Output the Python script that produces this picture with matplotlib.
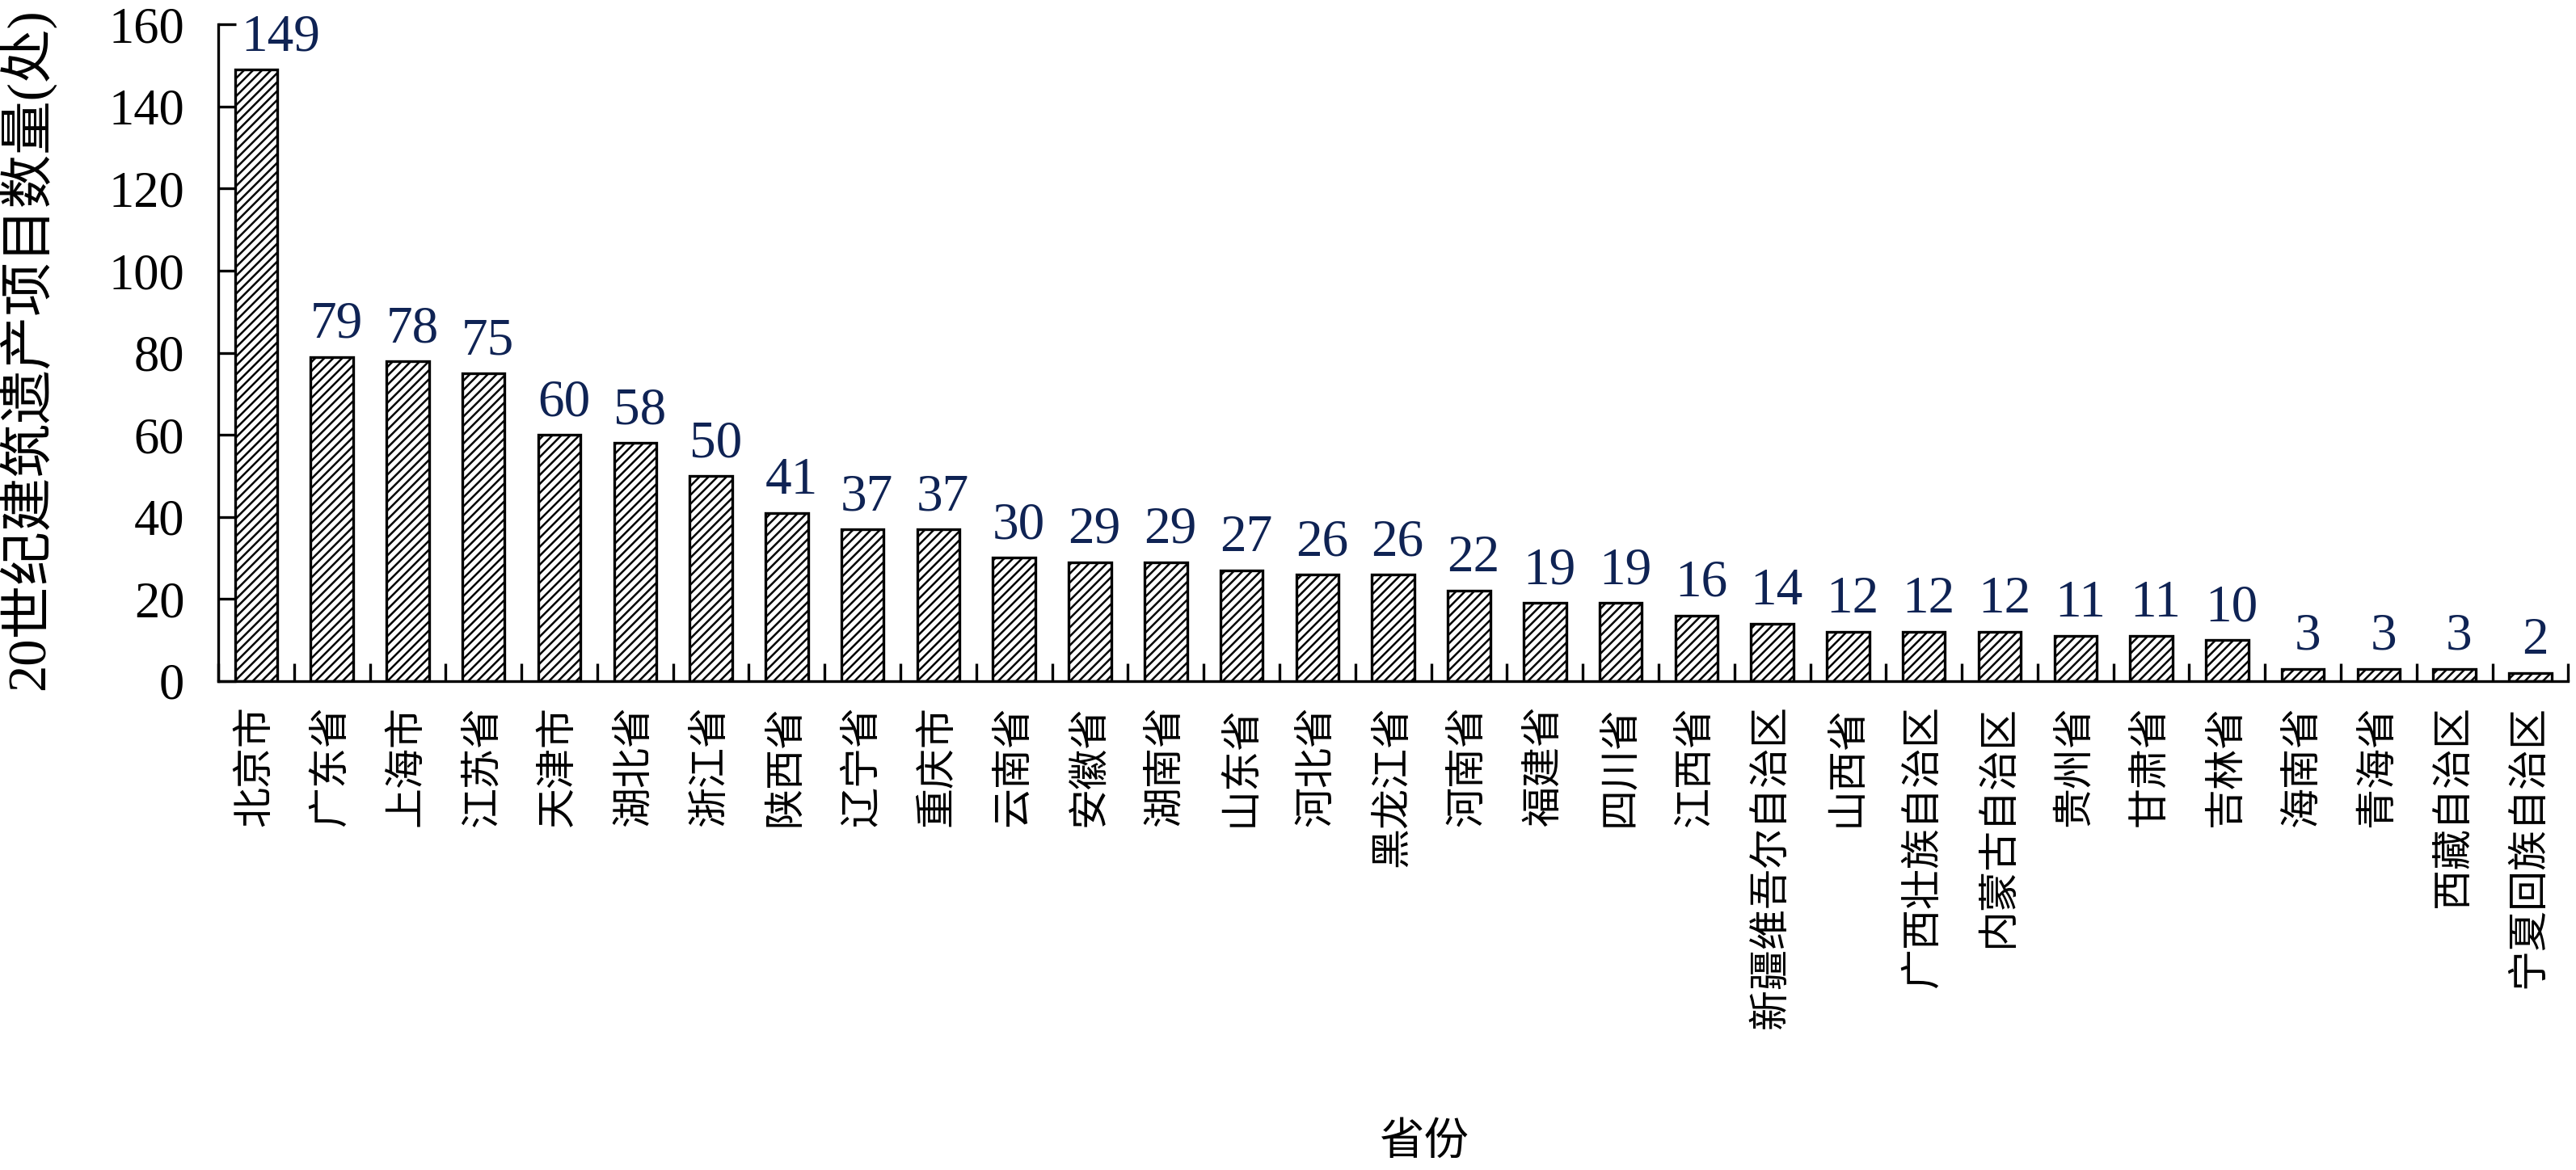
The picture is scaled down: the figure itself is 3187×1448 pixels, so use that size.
import matplotlib
matplotlib.use("Agg")
import matplotlib.pyplot as plt
import numpy as np

provinces = ["北京市", "广东省", "上海市", "江苏省", "天津市", "湖北省", "浙江省", "陕西省",
             "辽宁省", "重庆市", "云南省", "安徽省", "湖南省", "山东省", "河北省", "黑龙江省",
             "河南省", "福建省", "四川省", "江西省", "新疆维吾尔自治区", "山西省", "广西壮族自治区",
             "内蒙古自治区", "贵州省", "甘肃省", "吉林省", "海南省", "青海省", "西藏自治区", "宁夏回族自治区"]
counts = [149, 79, 78, 75, 60, 58, 50, 41, 37, 37, 30, 29, 29, 27, 26, 26,
          22, 19, 19, 16, 14, 12, 12, 12, 11, 11, 10, 3, 3, 3, 2]
yticks = [0, 20, 40, 60, 80, 100, 120, 140, 160]
ylabel = "20世纪建筑遗产项目数量(处)"
xlabel = "省份"

plt.rcParams['font.family'] = ['Liberation Serif', 'Noto Sans CJK SC', 'DejaVu Sans']
plt.rcParams['hatch.linewidth'] = 1.8

fig = plt.figure(figsize=(31.87, 14.48), dpi=100)
ax = fig.add_axes([0.0847, 0.418, 0.9123, 0.561])

x = np.arange(len(provinces))
bars = ax.bar(x, counts, width=0.56, color='white', edgecolor='black',
              linewidth=2.4, hatch='///')

label_color = '#0f2354'
for i, (xi, v) in enumerate(zip(x, counts)):
    dx = 22 if i == 0 else 4
    ax.annotate(str(v), (xi, v), xytext=(dx, 7), textcoords='offset points',
                ha='center', va='bottom', fontsize=47, color=label_color)

ax.set_xlim(-0.5, len(provinces) - 0.5)
ax.set_ylim(0, 160)
ax.set_yticks(yticks)
ax.tick_params(axis='y', direction='in', length=16, width=2.4, labelsize=45, pad=30)

ax.set_xticks(np.arange(len(provinces) + 1) - 0.5)
ax.set_xticklabels([])
ax.tick_params(axis='x', which='major', direction='in', length=16, width=2.4)
ax.set_xticks(x, minor=True)
ax.set_xticklabels(provinces, minor=True, rotation=90, fontsize=36, va='top', ha='center')
ax.tick_params(axis='x', which='minor', length=0, pad=22)

for side in ['top', 'right']:
    ax.spines[side].set_visible(False)
for side in ['left', 'bottom']:
    ax.spines[side].set_linewidth(2.4)

ax.set_ylabel(ylabel, fontsize=48)
ax.yaxis.set_label_coords(-0.0695, 0.505)
fig.text(0.553, 0.023, xlabel, fontsize=40, ha='center', va='center')

fig.savefig("out.png", dpi=100)
